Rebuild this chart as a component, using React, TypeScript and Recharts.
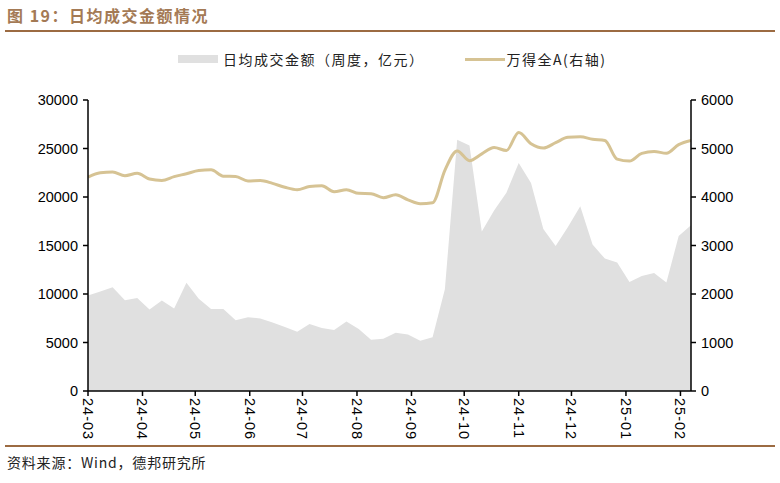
import { ComposedChart, Area, Line, XAxis, YAxis } from 'recharts'

// 周度日期（周五）
const dates = [
  '2024-03-01', '2024-03-08', '2024-03-15', '2024-03-22', '2024-03-29',
  '2024-04-05', '2024-04-12', '2024-04-19', '2024-04-26',
  '2024-05-03', '2024-05-10', '2024-05-17', '2024-05-24', '2024-05-31',
  '2024-06-07', '2024-06-14', '2024-06-21', '2024-06-28',
  '2024-07-05', '2024-07-12', '2024-07-19', '2024-07-26',
  '2024-08-02', '2024-08-09', '2024-08-16', '2024-08-23', '2024-08-30',
  '2024-09-06', '2024-09-13', '2024-09-20', '2024-09-27',
  '2024-10-04', '2024-10-11', '2024-10-18', '2024-10-25',
  '2024-11-01', '2024-11-08', '2024-11-15', '2024-11-22', '2024-11-29',
  '2024-12-06', '2024-12-13', '2024-12-20', '2024-12-27',
  '2025-01-03', '2025-01-10', '2025-01-17', '2025-01-24', '2025-01-31',
  '2025-02-07',
]

// 日均成交金额（周度，亿元）
const turnover = [
  9850, 10250, 10700, 9350, 9600, 8400, 9330, 8500, 11150, 9500,
  8450, 8450, 7300, 7600, 7480, 7050, 6600, 6100, 6900, 6500,
  6300, 7170, 6400, 5280, 5380, 6000, 5820, 5170, 5550, 10500,
  25900, 25300, 16450, 18600, 20450, 23500, 21450, 16700, 14950, 16900,
  19050, 15100, 13650, 13250, 11250, 11850, 12170, 11180, 15980, 17100,
]

// 万得全A（右轴）
const windA = [
  4410, 4500, 4515, 4440, 4490, 4370, 4340, 4420, 4480, 4545,
  4560, 4430, 4425, 4330, 4340, 4280, 4200, 4150, 4215, 4230,
  4110, 4150, 4075, 4068, 3985, 4045, 3940, 3862, 3880, 4550,
  4950, 4750, 4890, 5020, 4960, 5330, 5100, 5010, 5120, 5230,
  5240, 5190, 5165, 4780, 4740, 4900, 4940, 4900, 5080, 5165,
]

const leftTicks = [0, 5000, 10000, 15000, 20000, 25000, 30000]
const rightTicks = [0, 1000, 2000, 3000, 4000, 5000, 6000]
const monthTicks = [
  '2024-03-01', '2024-04-01', '2024-05-01', '2024-06-01', '2024-07-01', '2024-08-01',
  '2024-09-01', '2024-10-01', '2024-11-01', '2024-12-01', '2025-01-01', '2025-02-01',
]

const data = dates.map((d, i) => ({
  t: Date.parse(d),
  turnover: turnover[i],
  windA: windA[i],
}))

const BROWN = '#9C6B42'
const GOLD = '#D6C394'
const GRAY = '#E0E0E0'
const AXIS_FONT = '"Liberation Sans", Arial, sans-serif'
const CJK_FONT = '"Noto Sans CJK SC", "Noto Sans", sans-serif'

function fmtMonth(v: number) {
  const d = new Date(v)
  return String(d.getUTCFullYear()).slice(2) + '-' + String(d.getUTCMonth() + 1).padStart(2, '0')
}

// 竖排的月份标签
function MonthTick({ x, y, payload }: any) {
  return (
    <text
      transform={`translate(${x},${y}) rotate(90)`}
      textAnchor="start"
      dominantBaseline="central"
      fontSize={14.5}
      letterSpacing={1}
      fontFamily={AXIS_FONT}
      fill="#000"
    >
      {fmtMonth(payload.value)}
    </text>
  )
}

export default function App() {
  return (
    <div style={{ position: 'absolute', left: 0, top: 0, width: 780, height: 483, background: '#fff', overflow: 'hidden' }}>
      <div
        style={{
          position: 'absolute', left: 7, top: 4, fontFamily: CJK_FONT, fontWeight: 700,
          fontSize: 16, letterSpacing: 1.5, color: '#A47A55', lineHeight: '22px',
        }}
      >
        图 19：日均成交金额情况
      </div>
      <div style={{ position: 'absolute', left: 5, top: 30, width: 770, height: 2, background: BROWN }} />

      {/* 图例 */}
      <div
        style={{
          position: 'absolute', left: 178, top: 49, height: 20, display: 'flex', alignItems: 'center',
          fontFamily: CJK_FONT, fontSize: 14, letterSpacing: 1.5, color: '#222', whiteSpace: 'nowrap',
        }}
      >
        <span style={{ display: 'inline-block', width: 40, height: 8, background: GRAY, marginRight: 5 }} />
        <span>日均成交金额（周度，亿元）</span>
        <span style={{ display: 'inline-block', width: 40, height: 3, background: GOLD, marginLeft: 40, marginRight: 2 }} />
        <span>万得全A(右轴)</span>
      </div>

      <div style={{ position: 'absolute', left: 0, top: 0 }}>
        <ComposedChart width={780} height={450} data={data} margin={{ top: 100, right: 29, bottom: 9, left: 28 }}>
          <XAxis
            dataKey="t"
            type="number"
            scale="time"
            domain={[data[0].t, data[data.length - 1].t]}
            ticks={monthTicks.map((m) => Date.parse(m))}
            interval={0}
            tick={<MonthTick />}
            tickSize={5}
            tickMargin={2}
            height={50}
            axisLine={{ stroke: '#000', strokeWidth: 1.5 }}
            tickLine={{ stroke: '#000', strokeWidth: 1.5 }}
            allowDataOverflow
          />
          <YAxis
            yAxisId="left"
            domain={[0, 30000]}
            ticks={leftTicks}
            width={60}
            tickSize={5}
            tickMargin={5}
            interval={0}
            axisLine={{ stroke: '#000', strokeWidth: 1.5 }}
            tickLine={{ stroke: '#000', strokeWidth: 1.5 }}
            tick={{ fontSize: 14.5, fontFamily: AXIS_FONT, fill: '#000' }}
          />
          <YAxis
            yAxisId="right"
            orientation="right"
            domain={[0, 6000]}
            ticks={rightTicks}
            width={60}
            tickSize={5}
            tickMargin={5}
            interval={0}
            axisLine={{ stroke: '#000', strokeWidth: 1.5 }}
            tickLine={{ stroke: '#000', strokeWidth: 1.5 }}
            tick={{ fontSize: 14.5, fontFamily: AXIS_FONT, fill: '#000' }}
          />
          <Area
            yAxisId="left"
            dataKey="turnover"
            type="linear"
            stroke="none"
            fill={GRAY}
            fillOpacity={1}
            isAnimationActive={false}
          />
          <Line
            yAxisId="right"
            dataKey="windA"
            type="monotone"
            stroke={GOLD}
            strokeWidth={3}
            dot={false}
            isAnimationActive={false}
          />
        </ComposedChart>
      </div>

      <div style={{ position: 'absolute', left: 5, top: 445, width: 770, height: 2, background: BROWN }} />
      <div
        style={{
          position: 'absolute', left: 7, top: 452, fontFamily: CJK_FONT, fontSize: 14, letterSpacing: 0.8,
          color: '#222', lineHeight: '20px', whiteSpace: 'nowrap',
        }}
      >
        资料来源：Wind，德邦研究所
      </div>
    </div>
  )
}
